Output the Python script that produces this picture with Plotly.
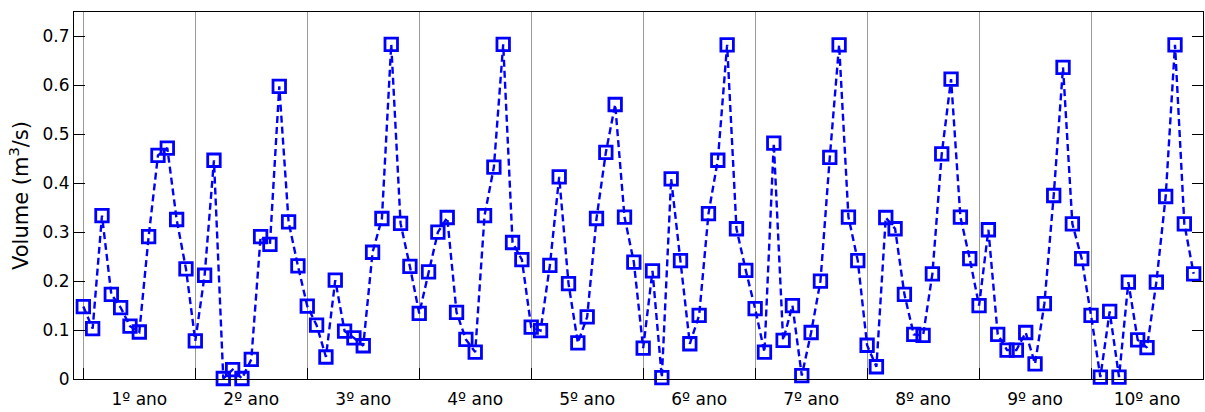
import plotly.graph_objects as go

months = list(range(1, 121))
volume = [
    0.148, 0.103, 0.334, 0.173, 0.146, 0.108, 0.096, 0.291, 0.457, 0.472, 0.326, 0.225,
    0.078, 0.212, 0.447, 0.001, 0.019, 0.001, 0.040, 0.291, 0.275, 0.598, 0.321, 0.231,
    0.149, 0.110, 0.045, 0.202, 0.098, 0.084, 0.068, 0.259, 0.328, 0.684, 0.318, 0.230,
    0.134, 0.219, 0.300, 0.330, 0.136, 0.081, 0.055, 0.334, 0.433, 0.684, 0.279, 0.244,
    0.106, 0.099, 0.232, 0.413, 0.195, 0.074, 0.127, 0.328, 0.463, 0.561, 0.331, 0.239,
    0.063, 0.221, 0.003, 0.409, 0.242, 0.072, 0.130, 0.338, 0.447, 0.683, 0.307, 0.222,
    0.144, 0.055, 0.482, 0.079, 0.150, 0.007, 0.095, 0.200, 0.453, 0.683, 0.331, 0.242,
    0.069, 0.025, 0.330, 0.307, 0.173, 0.091, 0.089, 0.215, 0.460, 0.613, 0.331, 0.246,
    0.150, 0.305, 0.091, 0.059, 0.059, 0.095, 0.031, 0.154, 0.375, 0.637, 0.317, 0.246,
    0.130, 0.004, 0.138, 0.004, 0.198, 0.080, 0.064, 0.198, 0.373, 0.683, 0.317, 0.215,
]
year_label_pos = [7, 19, 31, 43, 55, 67, 79, 91, 103, 115]
year_labels = ["1º ano", "2º ano", "3º ano", "4º ano", "5º ano",
               "6º ano", "7º ano", "8º ano", "9º ano", "10º ano"]
y_ticks = [0, 0.1, 0.2, 0.3, 0.4, 0.5, 0.6, 0.7]
y_tick_text = ["0", "0.1", "0.2", "0.3", "0.4", "0.5", "0.6", "0.7"]

FAM = "DejaVu Sans, Verdana, sans-serif"

fig = go.Figure()
fig.add_trace(go.Scatter(
    x=months, y=volume, mode="lines+markers",
    line=dict(color="#0000FF", width=2.4, dash="7px,4px"),
    marker=dict(symbol="square-open", size=12.5, color="#0000FF",
                line=dict(width=2.8, color="#0000FF")),
    showlegend=False, cliponaxis=False,
))

fig.update_layout(
    width=1205, height=412,
    margin=dict(l=74, r=2, t=12, b=33),
    paper_bgcolor="white", plot_bgcolor="white",
    font=dict(family=FAM, size=17, color="#000000"),
    xaxis=dict(
        range=[0, 121], tickmode="array", tickvals=year_label_pos, ticktext=year_labels,
        ticks="", showgrid=False, zeroline=False, ticklabelstandoff=5,
        showline=True, linecolor="#000000", linewidth=1, mirror=True,
        tickfont=dict(family=FAM, size=17, color="#000000"),
        minor=dict(tick0=1, dtick=12, showgrid=True, gridcolor="#9a9a9a", gridwidth=1,
                   ticks="inside", ticklen=11, tickcolor="#000000"),
    ),
    yaxis=dict(
        range=[0, 0.75], tickmode="array", tickvals=y_ticks, ticktext=y_tick_text,
        ticks="inside", ticklen=11, tickcolor="#000000",
        showgrid=False, zeroline=False,
        showline=True, linecolor="#000000", linewidth=1, mirror="allticks",
        tickfont=dict(family=FAM, size=17, color="#000000"),
        title=dict(text="Volume (m<sup>3</sup>/s)",
                   font=dict(family=FAM, size=21, color="#000000"), standoff=8),
    ),
)
fig.write_html("out.html")
